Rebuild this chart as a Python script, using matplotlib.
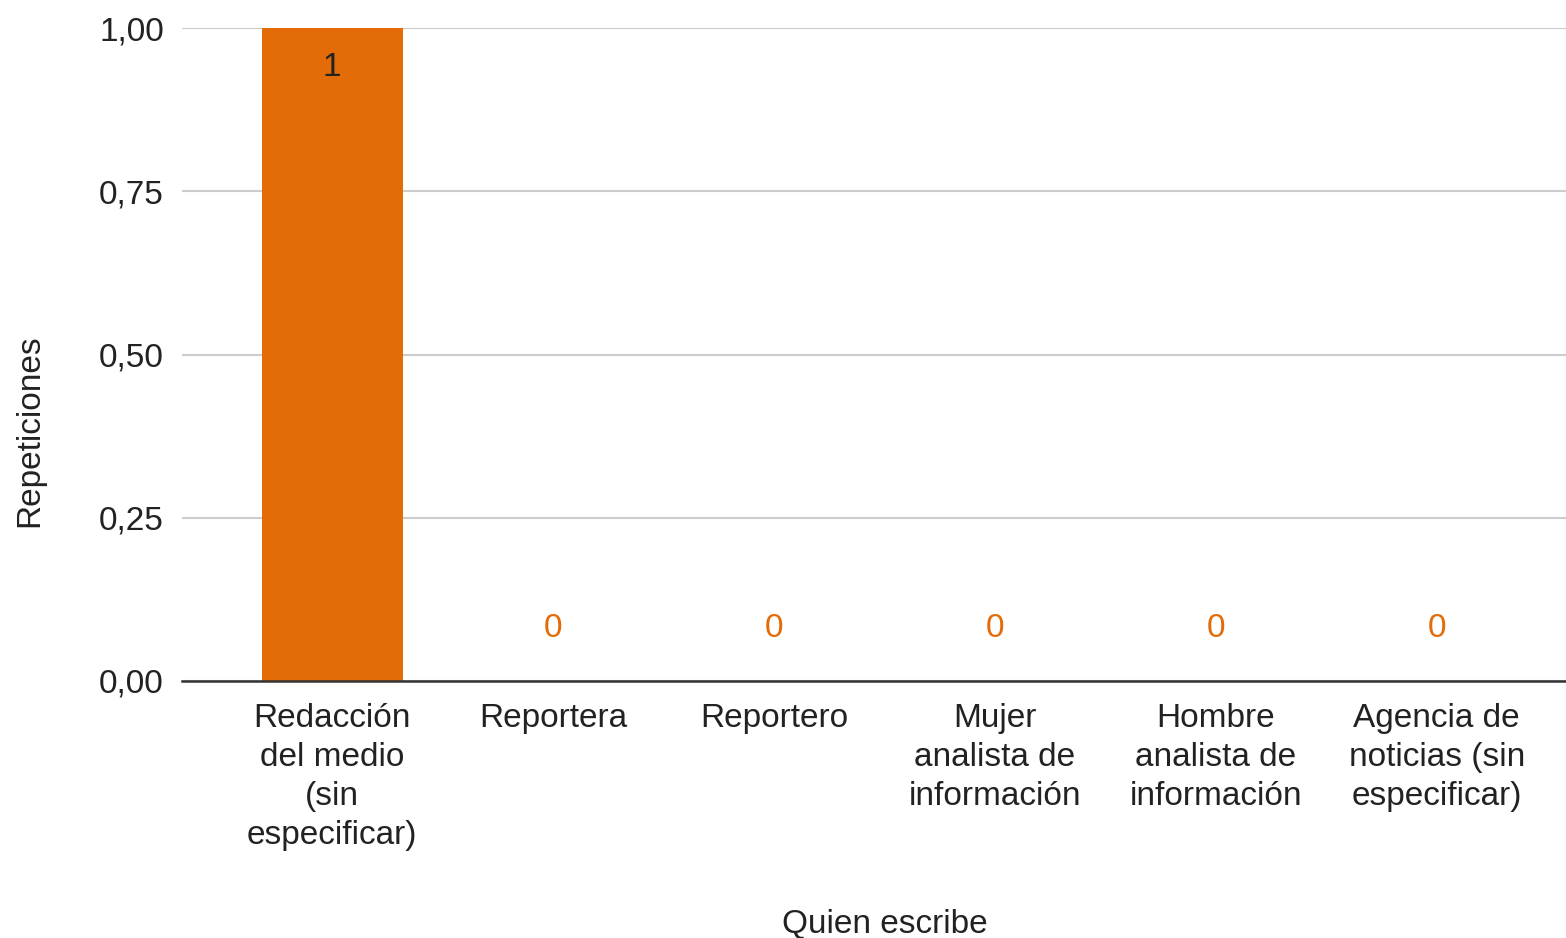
import matplotlib
matplotlib.use('Agg')
import matplotlib.pyplot as plt
from matplotlib.ticker import FuncFormatter

# Data
categories = ['Redacción\ndel medio\n(sin\nespecificar)', 'Reportera', 'Reportero',
              'Mujer\nanalista de\ninformación', 'Hombre\nanalista de\ninformación',
              'Agencia de\nnoticias (sin\nespecificar)']
values = [1, 0, 0, 0, 0, 0]
y_ticks = [0, 0.25, 0.5, 0.75, 1.0]

BAR_COLOR = '#E36C09'
FS = 24

plt.rcParams['font.family'] = ['Liberation Sans', 'DejaVu Sans']

fig = plt.figure(figsize=(15.66, 9.38), dpi=100)
ax = fig.add_axes([0.1162, 0.274, 0.8838, 0.696])

x = list(range(len(categories)))
ax.bar(x, values, width=0.638, color=BAR_COLOR, zorder=3)

# Value labels
for xi, v in zip(x, values):
    if v > 0:
        ax.text(xi, v - 0.06, f'{v}', ha='center', va='center', fontsize=FS, color='#222222', zorder=4)
    else:
        ax.text(xi, v + 0.081, f'{v}', ha='center', va='center', fontsize=FS, color=BAR_COLOR, zorder=4)

ax.set_xlim(-0.68, 5.585)
ax.set_ylim(0, 1.0)
ax.set_yticks(y_ticks)
ax.yaxis.set_major_formatter(FuncFormatter(lambda v, p: f'{v:.2f}'.replace('.', ',')))
ax.set_xticks(x)
ax.set_xticklabels(categories, fontsize=FS, linespacing=1.33, va='top')

ax.grid(axis='y', color='#cccccc', linewidth=1.5, zorder=0)
ax.set_axisbelow(True)
for s in ['top', 'right', 'left']:
    ax.spines[s].set_visible(False)
ax.spines['bottom'].set_color('#333333')
ax.spines['bottom'].set_linewidth(1.8)
ax.spines['bottom'].set_zorder(5)

ax.tick_params(axis='y', length=0, labelsize=FS, pad=13, colors='#222222')
ax.tick_params(axis='x', length=0, labelsize=FS, pad=16, colors='#222222')

ax.set_ylabel('Repeticiones', fontsize=FS, color='#222222')
ax.set_xlabel('Quien escribe', fontsize=FS, color='#222222')
ax.xaxis.set_label_coords((885 - 182) / 1384, -(909 - 681) / 653)
ax.yaxis.set_label_coords(-(182 - 45) / 1384, (681 - 431) / 653)

fig.savefig('out.png', dpi=100)
